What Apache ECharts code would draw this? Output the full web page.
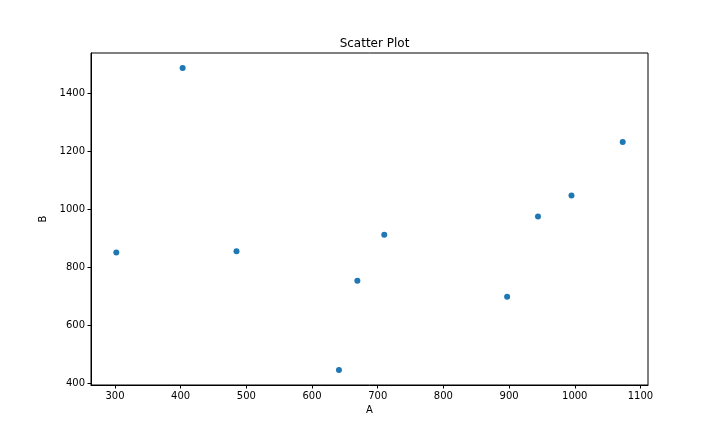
<!DOCTYPE html>
<html>
<head>
<meta charset="utf-8">
<script src="https://cdn.jsdelivr.net/npm/echarts@6/dist/echarts.min.js"></script>
<style>html,body{margin:0;padding:0;background:#fff}#c{width:720px;height:432px}</style>
</head>
<body>
<div id="c"></div>
<script>
const xValues = [302, 403, 485, 641, 669, 710, 897, 944, 995, 1073];
const yValues = [850, 1487, 855, 445, 753, 912, 698, 975, 1047, 1232];
const xTicks = [300, 400, 500, 600, 700, 800, 900, 1000, 1100];
const yTicks = [400, 600, 800, 1000, 1200, 1400];
const xRange = [263.5, 1111.5];
const yRange = [393, 1539];

const points = xValues.map((x, i) => [x, yValues[i]]);
const font = 'DejaVu Sans';
const chart = echarts.init(document.getElementById('c'), null, {renderer: 'canvas'});
chart.setOption({
  animation: false,
  backgroundColor: '#fff',
  title: {
    text: 'Scatter Plot', left: 369.5, textAlign: 'center', top: 33,
    textStyle: {fontFamily: font, fontSize: 12, fontWeight: 'normal', color: '#000'}
  },
  grid: {left: 91, right: 72, top: 53, bottom: 47, show: true, borderColor: '#000', borderWidth: 1, backgroundColor: 'transparent'},
  xAxis: {
    type: 'value', min: xRange[0], max: xRange[1],
    name: 'A', nameLocation: 'middle', nameGap: 19,
    nameTextStyle: {fontFamily: font, fontSize: 10, color: '#000'},
    axisLine: {show: true, onZero: false, lineStyle: {color: '#000', width: 1}},
    axisTick: {show: true, length: 3.5, lineStyle: {color: '#000'}, customValues: xTicks},
    axisLabel: {fontFamily: font, fontSize: 10, color: '#000', margin: 6, customValues: xTicks, formatter: v => String(v)},
    splitLine: {show: false}
  },
  yAxis: {
    type: 'value', min: yRange[0], max: yRange[1],
    name: 'B', nameLocation: 'middle', nameGap: 26,
    nameTextStyle: {fontFamily: font, fontSize: 10, color: '#000'},
    axisLine: {show: true, onZero: false, lineStyle: {color: '#000', width: 1}},
    axisTick: {show: true, length: 3.5, lineStyle: {color: '#000'}, customValues: yTicks},
    axisLabel: {fontFamily: font, fontSize: 10, color: '#000', margin: 6, customValues: yTicks, formatter: v => String(v)},
    splitLine: {show: false}
  },
  series: [{
    type: 'scatter', data: points, symbolSize: 6,
    itemStyle: {color: '#1f77b4', opacity: 1}
  }]
});
</script>
</body>
</html>
